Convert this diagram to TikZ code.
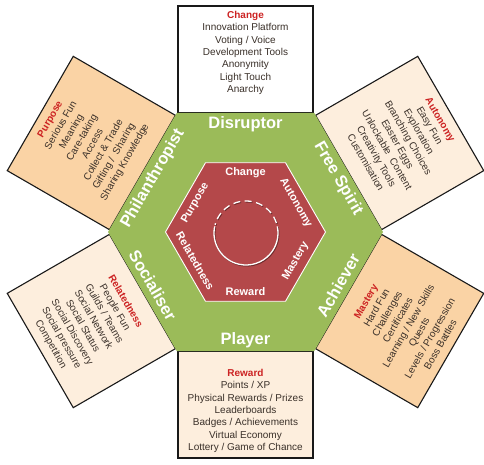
\documentclass[tikz,border=0pt]{standalone}
\usepackage{fontspec}
\setmainfont{Liberation Sans}
\usetikzlibrary{calc}
\definecolor{hexgreen}{HTML}{9BBB59}
\definecolor{hexred}{HTML}{B4484A}
\definecolor{peach}{HTML}{FAD3A5}
\definecolor{cream}{HTML}{FDEEDD}
\definecolor{txtcol}{HTML}{3A3029}
\definecolor{titred}{HTML}{CC2222}
\newcommand{\ttl}[1]{\textcolor{titred}{\textbf{#1}}}
\tikzset{
  boxshape/.style={draw=black!90, line width=1.1pt, inner sep=0pt, outer sep=0pt},
  sidebox/.style={boxshape, minimum width=132pt, minimum height=118pt},
  tbbox/.style={boxshape, minimum width=135pt, minimum height=107pt},
  boxtext/.style={font=\fontsize{10}{12.3}\selectfont, text=txtcol, align=center, inner sep=0pt},
  typelabel/.style={font=\fontsize{16.5}{17}\selectfont\bfseries, text=white, inner sep=0pt},
  corelabel/.style={font=\fontsize{11}{12}\selectfont\bfseries, text=white, inner sep=0pt},
}
\begin{document}
\begin{tikzpicture}[x=1pt,y=1pt]
\useasboundingbox (-245.5,-232) rectangle (238.5,232);
% boxes
\node[tbbox, fill=white] (boxT) at (90:172.5) {};
\node[tbbox, fill=cream] (boxB) at (-90:172.5) {};
\node[sidebox, fill=cream, rotate=-60] (boxUR) at (30:178) {};
\node[sidebox, fill=peach, rotate=60] (boxLR) at (-30:178) {};
\node[sidebox, fill=cream, rotate=-60] (boxLL) at (-150:178) {};
\node[sidebox, fill=peach, rotate=60] (boxUL) at (150:178) {};
% box texts
\node[boxtext] (tT) at (90:179) {\ttl{Change}\\Innovation Platform\\Voting / Voice\\Development Tools\\Anonymity\\Light Touch\\Anarchy};
\node[boxtext] (tB) at (-90:179) {\ttl{Reward}\\Points / XP\\Physical Rewards / Prizes\\Leaderboards\\Badges / Achievements\\Virtual Economy\\Lottery / Game of Chance};
\node[boxtext, rotate=-60] (tUR) at (30:182) {\ttl{Autonomy}\\Easy Fun\\Exploration\\Branching Choices\\Easter Eggs\\Unlockable\ \ Content\\Creativity Tools\\Customisation};
\node[boxtext, rotate=60] (tLR) at (-30:182) {\ttl{Mastery}\\Hard Fun\\Challenges\\Certificates\\Learning / New Skills\\Quests\\Levels / Progression\\Boss Battles};
\node[boxtext, rotate=-60] (tLL) at (-150:182) {\ttl{Relatedness}\\People Fun\\Guilds / Teams\\Social Network\\Social Status\\Social Discovery\\Social pressure\\Competition};
\node[boxtext, rotate=60] (tUL) at (150:182) {\ttl{Purpose}\\Serious Fun\\Meaning\\Care-taking\\Access\\Collect \& Trade\\Gifting /\ \ Sharing\\Sharing Knowledge};
% green hexagon
\fill[hexgreen] (0:137.5) -- (60:137.5) -- (120:137.5) -- (180:137.5) -- (240:137.5) -- (300:137.5) -- cycle;
% red hexagon
\filldraw[fill=hexred, draw=white, line width=0.9pt] (0:80) -- (60:80) -- (120:80) -- (180:80) -- (240:80) -- (300:80) -- cycle;
% type labels
\node[typelabel] (disruptor) at (90:108) {Disruptor};
\node[typelabel] (player) at (-90:108) {Player};
\node[typelabel, rotate=-60] (freespirit) at (30:107) {Free Spirit};
\node[typelabel, rotate=60] (achiever) at (-30:107) {Achiever};
\node[typelabel, rotate=-60] (socialiser) at (-150:107) {Socialiser};
\node[typelabel, rotate=60] (philanthropist) at (150:107) {Philanthropist};
% core labels
\node[corelabel] (cChange) at (90:59) {Change};
\node[corelabel] (cReward) at (-90:60) {Reward};
\node[corelabel, rotate=-60] (cAutonomy) at (30:58) {Autonomy};
\node[corelabel, rotate=60] (cMastery) at (-30:58) {Mastery};
\node[corelabel, rotate=-60] (cRelated) at (-150:58) {Relatedness};
\node[corelabel, rotate=60] (cPurpose) at (150:58) {Purpose};
% circle
\coordinate (cc) at (0.5,-1);
\begin{scope}[shift={(cc)}]
\draw[hexred!60!black, line width=1.3pt] ($(168:32)+(0.8,-0.9)$) arc (168:372:32);
\draw[hexred!60!black, line width=1.3pt, dash pattern=on 7pt off 4.5pt] ($(18:32)+(0.8,-0.9)$) arc (18:165:32);
\draw[white, line width=1.3pt] (168:32) arc (168:372:32);
\draw[white, line width=1.3pt, dash pattern=on 7pt off 4.5pt] (18:32) arc (18:165:32);
\end{scope}
\end{tikzpicture}
\end{document}
